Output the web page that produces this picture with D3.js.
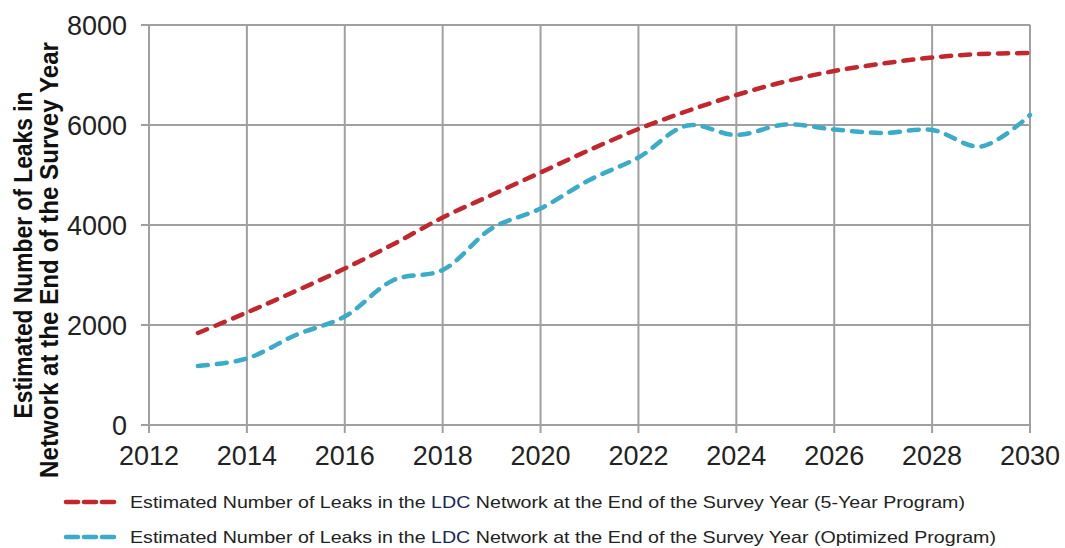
<!DOCTYPE html>
<html>
<head>
<meta charset="utf-8">
<script src="https://cdn.jsdelivr.net/npm/d3@7"></script>
<style>
    body { margin: 0; background: #fff; }
    svg { display: block; font-family: "Liberation Sans", Arial, sans-serif; }
</style>
</head>
<body>
<svg id="chart" viewBox="0 0 1065 548" width="1065" height="548"></svg>
<script>
const years = [2013, 2014, 2015, 2016, 2017, 2018, 2019, 2020, 2021, 2022, 2023, 2024, 2025, 2026, 2027, 2028, 2029, 2030];
const five_year = [1840, 2250, 2680, 3130, 3620, 4150, 4600, 5050, 5500, 5920, 6280, 6600, 6870, 7080, 7230, 7350, 7420, 7440];
const optimized = [1180, 1330, 1800, 2170, 2900, 3100, 3930, 4330, 4900, 5350, 5990, 5800, 6010, 5910, 5840, 5900, 5570, 6200];
const x_ticks = [2012, 2014, 2016, 2018, 2020, 2022, 2024, 2026, 2028, 2030];
const y_ticks = [0, 2000, 4000, 6000, 8000];
const series_labels = [
    "Estimated Number of Leaks in the LDC Network at the End of the Survey Year (5-Year Program)",
    "Estimated Number of Leaks in the LDC Network at the End of the Survey Year (Optimized Program)"
];
const series_colors = ["#c1272d", "#3aabc8"];

const svg = d3.select("#chart");

const x = d3.scaleLinear().domain([2012, 2030]).range([149, 1030]);
const y = d3.scaleLinear().domain([0, 8000]).range([425, 25]);

const grid_color = "#a0a0a0";

// grid lines
const grid = svg.append("g");
grid.selectAll(".hgrid")
    .data(y_ticks)
    .enter()
    .append("line")
    .attr("x1", x(2012) - 8)
    .attr("x2", x(2030))
    .attr("y1", d => y(d))
    .attr("y2", d => y(d))
    .style("stroke", grid_color)
    .style("stroke-width", 2);

grid.selectAll(".vgrid")
    .data(x_ticks)
    .enter()
    .append("line")
    .attr("x1", d => x(d))
    .attr("x2", d => x(d))
    .attr("y1", y(8000))
    .attr("y2", y(0) + 8)
    .style("stroke", grid_color)
    .style("stroke-width", 2);

// tick labels
svg.append("g")
    .selectAll("text")
    .data(y_ticks)
    .enter()
    .append("text")
    .attr("x", 127)
    .attr("y", d => y(d) + 10)
    .attr("text-anchor", "end")
    .style("font-size", "27px")
    .style("fill", "#222")
    .text(d => d);

svg.append("g")
    .selectAll("text")
    .data(x_ticks)
    .enter()
    .append("text")
    .attr("x", d => x(d))
    .attr("y", 465)
    .attr("text-anchor", "middle")
    .style("font-size", "27px")
    .style("fill", "#222")
    .text(d => d);

// y axis title
const y_title = svg.append("g")
    .attr("transform", "translate(0, 255) rotate(-90)");
y_title.append("text")
    .attr("x", 0)
    .attr("y", 32)
    .attr("text-anchor", "middle")
    .attr("textLength", 327)
    .attr("lengthAdjust", "spacingAndGlyphs")
    .style("font-size", "25px")
    .style("font-weight", "bold")
    .style("fill", "#111")
    .text("Estimated Number of Leaks in");
y_title.append("text")
    .attr("x", -5)
    .attr("y", 58)
    .attr("text-anchor", "middle")
    .attr("textLength", 436)
    .attr("lengthAdjust", "spacingAndGlyphs")
    .style("font-size", "25px")
    .style("font-weight", "bold")
    .style("fill", "#111")
    .text("Network at the End of the Survey Year");

// series lines
const line = d3.line()
    .x((d, i) => x(years[i]))
    .y(d => y(d))
    .curve(d3.curveCatmullRom.alpha(0.5));

[five_year, optimized].forEach((values, i) => {
    svg.append("path")
        .datum(values)
        .attr("d", line)
        .style("fill", "none")
        .style("stroke", series_colors[i])
        .style("stroke-width", 4.5)
        .style("stroke-dasharray", "10,9")
        .style("stroke-linecap", "round");
});

// legend
const legend_y = [502, 537];
const legend_len = [835, 866];
series_labels.forEach((label, i) => {
    const item = svg.append("g")
        .attr("transform", `translate(0, ${legend_y[i]})`);

    item.append("line")
        .attr("x1", 66)
        .attr("x2", 118)
        .attr("y1", 0)
        .attr("y2", 0)
        .style("stroke", series_colors[i])
        .style("stroke-width", 4.5)
        .style("stroke-dasharray", "12,6")
        .style("stroke-linecap", "round");

    const parts = label.split("LDC");
    const t = item.append("text")
        .attr("x", 130)
        .attr("y", 6)
        .attr("textLength", legend_len[i])
        .attr("lengthAdjust", "spacingAndGlyphs")
        .style("font-size", "17px")
        .style("fill", "#222");
    t.append("tspan").text(parts[0]);
    t.append("tspan").style("fill", "#1b2456").text("LDC");
    t.append("tspan").text(parts[1]);
});
</script>
</body>
</html>
